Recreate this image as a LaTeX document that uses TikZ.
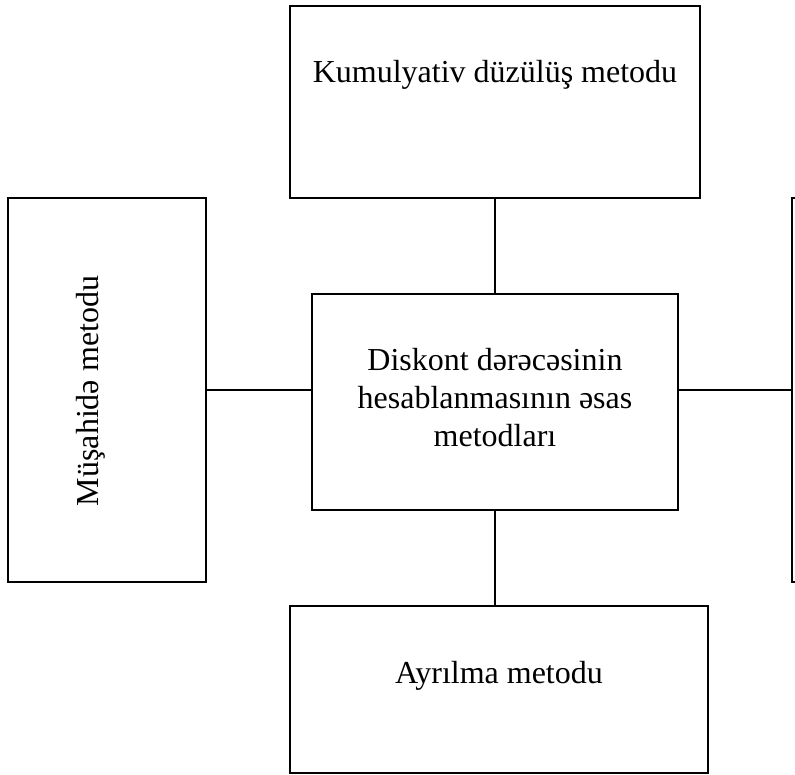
\documentclass[tikz,border=0pt]{standalone}
\usepackage{fontspec}
\setmainfont{Liberation Serif}
\begin{document}
\begin{tikzpicture}[x=1pt,y=-1pt,
  box/.style={draw=black, line width=1.8pt, inner sep=0pt, outer sep=0pt, rectangle},
  link/.style={draw=black, line width=1.5pt},
  label/.style={inner sep=0pt, outer sep=0pt, font=\fontsize{32}{38}\selectfont}]
\useasboundingbox (0,0) rectangle (795,775);
\clip (0,0) rectangle (795,775);

% method boxes
\node[box, minimum width=410pt, minimum height=192pt] (kum) at (495,102) {};
\node[box, minimum width=198pt, minimum height=384pt] (mus) at (107,390) {};
\node[box, minimum width=366pt, minimum height=216pt] (main) at (495,402) {};
\node[box, minimum width=38pt, minimum height=384pt] (rgt) at (811,390) {};
\node[box, minimum width=418pt, minimum height=167pt] (ayr) at (499,689.5) {};

% texts
\node[label, anchor=base] (kumtext) at (495,83) {Kumulyativ düzülüş metodu};
\node[label, align=center, anchor=center] (maintext) at (495,398)
  {Diskont dərəcəsinin\\hesablanmasının əsas\\metodları};
\node[label, anchor=base] (ayrtext) at (499,683) {Ayrılma metodu};
\node[label, anchor=base, rotate=90] (mustext) at (98,391) {Müşahidə metodu};

% connectors
\draw[link] (kum.south) -- (main.north);
\draw[link] (main.south) -- (main.south |- ayr.north);
\draw[link] (mus.east) -- (mus.east -| main.west);
\draw[link] (rgt.west -| main.east) -- (rgt.west);
\end{tikzpicture}
\end{document}
